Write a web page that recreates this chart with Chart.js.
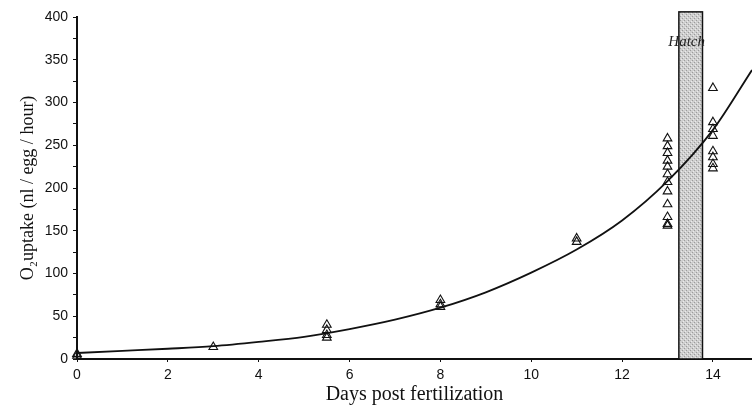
<!DOCTYPE html>
<html>
<head>
<meta charset="utf-8">
<style>
  html, body { margin: 0; padding: 0; background: #fff; overflow: hidden; }
  #wrap { width: 752px; height: 406px; position: relative; }
  canvas { display: block; }
</style>
<script src="https://cdn.jsdelivr.net/npm/chart.js@4.4.1/dist/chart.umd.min.js"></script>
</head>
<body>
<div id="wrap"><canvas id="uptakeChart" width="752" height="406"></canvas></div>
<script>
'use strict';

// Measured O2 uptake per egg, grouped by sampling day
const sampleDays = [0, 3, 5.5, 8, 11, 13, 14];
const uptakeDay0 = [6, 4];
const uptakeDay3 = [14];
const uptakeDay5 = [40, 34, 28, 25];
const uptakeDay8 = [69, 64, 61];
const uptakeDay11 = [141, 137];
const uptakeDay13 = [258, 249, 241, 232, 225, 216, 207, 196, 181, 166, 158, 156];
const uptakeDay14 = [317, 277, 269, 261, 243, 236, 228, 223];

// Fitted curve, read along its length
const fitDays = [0, 1, 2, 3, 4, 5, 6, 7, 8, 9, 10, 11, 12, 13, 14, 14.86];
const fitUptake = [7, 9.5, 12, 15, 20, 26, 35, 46, 60, 78, 101, 128, 162, 208, 268, 338];

// Hatching window (days) and the top of its band
const hatchStart = 13.25;
const hatchEnd = 13.77;
const hatchTop = 406;
const hatchLabel = 'Hatch';

// Axis ranges and tick spacing
const xMin = 0;
const xMax = 14.86;
const xStep = 2;
const yMin = 0;
const yMax = 400;
const yLabelStep = 50;
const yMinorStep = 25;

const SANS = "'Liberation Sans', Arial, sans-serif";
const SERIF = "'Liberation Serif', 'Times New Roman', serif";

function buildPoints() {
  const groups = [uptakeDay0, uptakeDay3, uptakeDay5, uptakeDay8, uptakeDay11, uptakeDay13, uptakeDay14];
  const pts = [];
  groups.forEach((vals, i) => {
    vals.forEach(v => pts.push({ x: sampleDays[i], y: v }));
  });
  return pts;
}

// speckled grey fill for the hatching band
function stipplePattern(ctx) {
  const c = document.createElement('canvas');
  c.width = 4;
  c.height = 4;
  const p = c.getContext('2d');
  p.fillStyle = '#cfcfcf';
  p.fillRect(0, 0, 4, 4);
  p.fillStyle = '#9c9c9c';
  p.fillRect(0, 0, 1, 1);
  p.fillRect(2, 2, 1, 1);
  p.fillStyle = '#ebebeb';
  p.fillRect(3, 1, 1, 1);
  p.fillRect(1, 3, 1, 1);
  return ctx.createPattern(c, 'repeat');
}

const hatchBand = {
  id: 'hatchBand',
  beforeDatasetsDraw(chart) {
    const { ctx, scales: { x, y } } = chart;
    const left = x.getPixelForValue(hatchStart);
    const right = x.getPixelForValue(hatchEnd);
    const top = y.getPixelForValue(hatchTop);
    const bottom = y.getPixelForValue(yMin);
    ctx.save();
    ctx.fillStyle = stipplePattern(ctx);
    ctx.fillRect(left, top, right - left, bottom - top);
    ctx.strokeStyle = '#111';
    ctx.lineWidth = 1.5;
    ctx.strokeRect(left, top, right - left, bottom - top);
    ctx.restore();
  },
  afterDatasetsDraw(chart) {
    const { ctx, scales: { x, y } } = chart;
    const cx = x.getPixelForValue((hatchStart + hatchEnd) / 2) - 4;
    const top = y.getPixelForValue(hatchTop);
    ctx.save();
    ctx.font = `italic 15px ${SERIF}`;
    ctx.fillStyle = '#222';
    ctx.textAlign = 'center';
    ctx.textBaseline = 'middle';
    ctx.fillText(hatchLabel, cx, top + 30);
    ctx.restore();
  },
};

const ctx = document.getElementById('uptakeChart').getContext('2d');
new Chart(ctx, {
  type: 'scatter',
  data: {
    datasets: [
      {
        label: 'O2 uptake',
        data: buildPoints(),
        pointStyle: 'triangle',
        pointRadius: 5,
        pointBorderWidth: 1.1,
        pointBorderColor: '#111',
        pointBackgroundColor: 'rgba(255,255,255,0)',
        showLine: false,
        clip: false,
      },
      {
        type: 'line',
        label: 'fit',
        data: fitDays.map((d, i) => ({ x: d, y: fitUptake[i] })),
        borderColor: '#111',
        borderWidth: 1.8,
        pointRadius: 0,
        cubicInterpolationMode: 'monotone',
        fill: false,
      },
    ],
  },
  plugins: [hatchBand],
  options: {
    responsive: false,
    animation: false,
    layout: {
      autoPadding: false,
      padding: { top: 17, right: 0, left: 0, bottom: 0 },
    },
    plugins: {
      legend: { display: false },
      tooltip: { enabled: false },
    },
    scales: {
      x: {
        type: 'linear',
        min: xMin,
        max: xMax,
        afterFit: s => {
          s.height = 47;
          s.paddingRight = 0;
          s.paddingLeft = 0;
        },
        afterBuildTicks: s => {
          s.ticks = [];
          for (let v = xMin; v <= xMax; v += xStep) s.ticks.push({ value: v });
        },
        border: { color: '#111', width: 2 },
        grid: { drawOnChartArea: false, color: '#111', tickLength: 3 },
        ticks: {
          color: '#111',
          padding: 5,
          maxRotation: 0,
          autoSkip: false,
          font: { family: SANS, size: 14 },
          callback: v => String(v),
        },
        title: {
          display: true,
          text: 'Days post fertilization',
          color: '#111',
          font: { family: SERIF, size: 20, lineHeight: 1 },
          padding: { top: 0, bottom: 1 },
        },
      },
      y: {
        min: yMin,
        max: yMax,
        afterFit: s => {
          s.width = 77;
          s.paddingTop = 0;
          s.paddingBottom = 0;
        },
        afterBuildTicks: s => {
          s.ticks = [];
          for (let v = yMin; v <= yMax; v += yMinorStep) s.ticks.push({ value: v });
        },
        border: { color: '#111', width: 2 },
        grid: {
          drawOnChartArea: false,
          color: '#111',
          tickLength: 4,
        },
        ticks: {
          color: '#111',
          padding: 5,
          autoSkip: false,
          font: { family: SANS, size: 14 },
          callback: v => (v % yLabelStep === 0 ? String(v) : ''),
        },
        title: {
          display: true,
          text: 'O₂uptake (nl / egg / hour)',
          color: '#111',
          font: { family: SERIF, size: 18, lineHeight: 1 },
          padding: { top: 19, bottom: 0 },
        },
      },
    },
  },
});
</script>
</body>
</html>
